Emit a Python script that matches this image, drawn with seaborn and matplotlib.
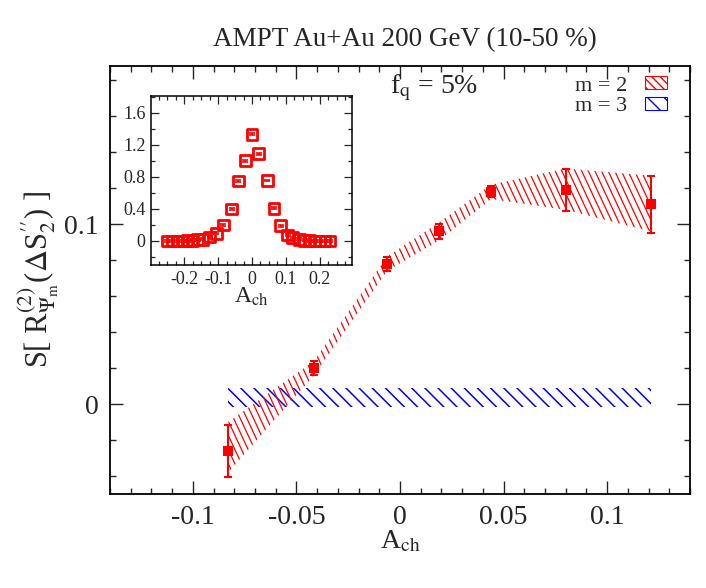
import numpy as np
import matplotlib
matplotlib.use("Agg")
import matplotlib.pyplot as plt
import seaborn as sns
from matplotlib.collections import LineCollection
from matplotlib.patches import Patch
from matplotlib.ticker import MultipleLocator, FuncFormatter

# ------------------------------------------------------------
# data
# ------------------------------------------------------------
ach = [-0.083, -0.0415, -0.0063, 0.0188, 0.044, 0.080, 0.1213]
r2 = [-0.026, 0.020, 0.078, 0.096, 0.118, 0.119, 0.111]
r2_err = [0.0145, 0.004, 0.004, 0.004, 0.003, 0.0117, 0.0156]
band2_lo = [-0.038, 0.016, 0.074, 0.091, 0.114, 0.108, 0.096]
band2_hi = [-0.010, 0.024, 0.082, 0.101, 0.122, 0.131, 0.127]
band3_lo = [-0.0017, -0.0017, -0.0017, -0.0017, -0.0017, -0.0017, -0.0017]
band3_hi = [0.0089, 0.0089, 0.0089, 0.0089, 0.0089, 0.0089, 0.0089]

inset_x = [-0.25, -0.235, -0.22, -0.205, -0.19, -0.175, -0.16, -0.145, -0.125,
           -0.105, -0.085, -0.06, -0.04, -0.02, 0.0, 0.02, 0.045, 0.065, 0.085,
           0.105, 0.12, 0.14, 0.155, 0.17, 0.185, 0.20, 0.215, 0.23]
inset_y = [0.0, 0.0, 0.0, 0.0, 0.005, 0.01, 0.015, 0.02, 0.05,
           0.095, 0.20, 0.40, 0.75, 1.00, 1.33, 1.09, 0.755, 0.41, 0.19,
           0.075, 0.04, 0.02, 0.01, 0.005, 0.0, 0.0, 0.0, 0.0]
inset_err = [0.012] * len(inset_x)

labels = ["m = 2", "m = 3"]
RED = "#ff0000"
BLUE = "#0000ff"

# ------------------------------------------------------------
# style
# ------------------------------------------------------------
sns.set_style("ticks")
plt.rcParams["font.family"] = ["Liberation Serif", "DejaVu Serif"]
plt.rcParams["mathtext.fontset"] = "stix"
plt.rcParams["axes.unicode_minus"] = False

fmt = FuncFormatter(lambda v, p: f"{v:g}")


def hatch_fill(ax, x, lo, hi, color, step_px, angle_deg, lw):
    # diagonal line hatching clipped to the band polygon
    band = ax.fill_between(x, lo, hi, facecolor="none", edgecolor="none", linewidth=0)
    bb = ax.get_window_extent()
    w, h = bb.width, bb.height
    t = np.deg2rad(angle_deg)
    d = np.array([np.cos(t), -np.sin(t)])
    n = np.array([np.sin(t), np.cos(t)])
    corners = np.array([[0, 0], [w, 0], [0, h], [w, h]])
    proj = corners @ n
    offs = np.arange(proj.min(), proj.max() + step_px, step_px)
    L = np.hypot(w, h)
    segs = []
    for o in offs:
        p = o * n
        segs.append([(p - L * d) / [w, h], (p + L * d) / [w, h]])
    lc = LineCollection(segs, colors=color, linewidths=lw, transform=ax.transAxes)
    lc.set_clip_path(band.get_paths()[0], ax.transData)
    ax.add_collection(lc, autolim=False)


fig = plt.figure(figsize=(7.06, 5.88), dpi=100)
ax = fig.add_axes([110 / 706, 94 / 588, 580 / 706, 428 / 588])
ax.set_xlim(-0.14, 0.14)
ax.set_ylim(-0.05, 0.188)

# ------------------------------------------------------------
# main panel
# ------------------------------------------------------------
hatch_fill(ax, ach, band3_lo, band3_hi, BLUE, 9.3, 45, 1.1)
hatch_fill(ax, ach, band2_lo, band2_hi, RED, 6.0, 65, 0.9)

ax.errorbar(ach, r2, yerr=r2_err, fmt="none", ecolor=RED, elinewidth=1.5,
            capsize=3, capthick=1.5, zorder=3)
sns.scatterplot(x=ach, y=r2, marker="s", s=60, color=RED, edgecolor=RED,
                linewidth=0, ax=ax, zorder=4)

ax.xaxis.set_major_locator(MultipleLocator(0.05))
ax.xaxis.set_minor_locator(MultipleLocator(0.01))
ax.yaxis.set_major_locator(MultipleLocator(0.1))
ax.yaxis.set_minor_locator(MultipleLocator(0.02))
ax.xaxis.set_major_formatter(fmt)
ax.yaxis.set_major_formatter(fmt)
ax.tick_params(which="both", direction="in", top=True, right=True, width=1.0)
ax.tick_params(which="major", length=9.5, labelsize=20, pad=8)
ax.tick_params(which="minor", length=4.5)
for sp in ax.spines.values():
    sp.set_linewidth(1.3)
    sp.set_color("black")

ax.set_xlabel(r"A$_\mathrm{ch}$", fontsize=20, labelpad=-1)
ax.set_ylabel(r"S[ R$^{(2)}_{\Psi_\mathrm{m}}$($\Delta$S$^{\prime\prime}_{2}$) ]",
              fontsize=22, labelpad=2)

ax.text((390 - 110) / 580, (494 - 88) / 428, r"f$_\mathrm{q}$ = 5%",
        transform=ax.transAxes, fontsize=20, va="center", ha="left")

handles = [
    Patch(facecolor="white", edgecolor=RED, hatch="\\\\\\\\", linewidth=0.8),
    Patch(facecolor="white", edgecolor=BLUE, hatch="\\\\", linewidth=0.8),
]
ax.legend(handles, labels, loc="upper right",
          bbox_to_anchor=((667 - 110) / 580, (494 - 76) / 428),
          frameon=False, markerfirst=False, fontsize=16, borderpad=0,
          handlelength=1.0, handleheight=0.55, handletextpad=0.8,
          labelspacing=0.05, borderaxespad=0)

fig.text(405 / 706, 1 - 40 / 588, "AMPT Au+Au 200 GeV (10-50 %)",
         fontsize=19.5, ha="center", va="center")

# ------------------------------------------------------------
# inset
# ------------------------------------------------------------
ins = fig.add_axes([151 / 706, (588 - 265) / 588, 201 / 706, 169 / 588])
ins.errorbar(inset_x, inset_y, yerr=inset_err, fmt="none", ecolor=RED,
             elinewidth=1.2, capsize=2, capthick=1.2, zorder=3)
sns.scatterplot(x=inset_x, y=inset_y, marker="s", s=60, facecolor="none",
                edgecolor=RED, linewidth=2.0, ax=ins, zorder=4)
ins.set_xlim(-0.298, 0.295)
ins.set_ylim(-0.3, 1.81)
ins.xaxis.set_major_locator(MultipleLocator(0.1))
ins.xaxis.set_minor_locator(MultipleLocator(0.025))
ins.yaxis.set_major_locator(MultipleLocator(0.4))
ins.yaxis.set_minor_locator(MultipleLocator(0.2))
ins.xaxis.set_major_formatter(fmt)
ins.yaxis.set_major_formatter(fmt)
ins.tick_params(which="both", direction="in", top=True, right=True, width=0.9)
ins.tick_params(which="major", length=6, labelsize=13, pad=4)
ins.tick_params(which="minor", length=3)
for sp in ins.spines.values():
    sp.set_linewidth(1.1)
    sp.set_color("black")
ins.set_xlabel(r"A$_\mathrm{ch}$", fontsize=17, labelpad=-1)

fig.savefig("out.png", dpi=100)
